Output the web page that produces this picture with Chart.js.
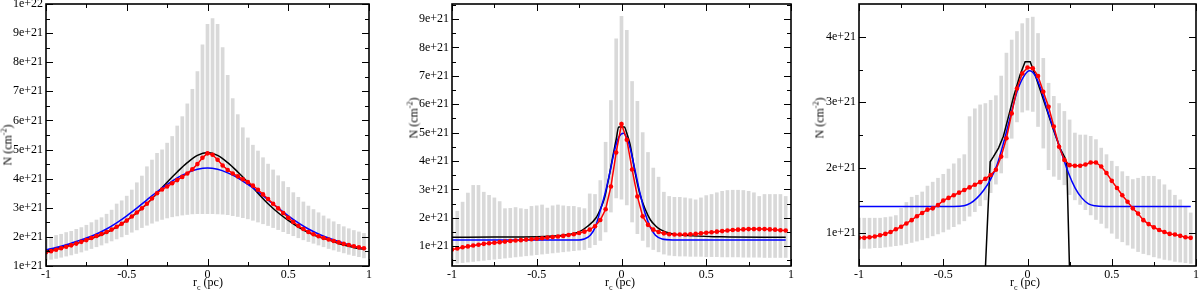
<!doctype html>
<html lang="en">
<head>
    <meta charset="utf-8">
    <title>Column density profiles</title>
    <style>
        * { margin: 0; padding: 0; }
        body { width: 1200px; height: 292px; background: #fff; position: relative; overflow: hidden; }
        .panel { position: absolute; top: 0; width: 400px; height: 292px; }
        .ytitle, .xtitle {
            position: absolute;
            font-family: "Liberation Serif", serif;
            font-size: 12px;
            color: #000;
            white-space: nowrap;
            line-height: 1;
        }
        .ytitle { transform: translate(-50%, -50%) rotate(-90deg); }
        .xtitle { transform: translate(-50%, -50%); }
        sup, sub { font-size: 8px; }
    </style>
</head>
<body>
    <canvas class="panel" id="p1" width="400" height="292" style="left:0"></canvas>
    <canvas class="panel" id="p2" width="400" height="292" style="left:400px"></canvas>
    <canvas class="panel" id="p3" width="400" height="292" style="left:800px"></canvas>

    <div class="ytitle" style="left:7px; top:145px">N (cm<sup>-2</sup>)</div>
    <div class="ytitle" style="left:413px; top:118px">N (cm<sup>-2</sup>)</div>
    <div class="ytitle" style="left:819px; top:118px">N (cm<sup>-2</sup>)</div>
    <div class="xtitle" style="left:208px; top:284px">r<sub>c</sub> (pc)</div>
    <div class="xtitle" style="left:620px; top:284px">r<sub>c</sub> (pc)</div>
    <div class="xtitle" style="left:1025px; top:284px">r<sub>c</sub> (pc)</div>

    <script src="https://cdn.jsdelivr.net/npm/chart.js/dist/chart.umd.min.js"></script>
    <script>
        // sample positions r_c (pc), same for all three panels
        const r = [-1, -0.96875, -0.9375, -0.90625, -0.875, -0.84375, -0.8125, -0.78125, -0.75, -0.71875,
            -0.6875, -0.65625, -0.625, -0.59375, -0.5625, -0.53125, -0.5, -0.46875, -0.4375, -0.40625,
            -0.375, -0.34375, -0.3125, -0.28125, -0.25, -0.21875, -0.1875, -0.15625, -0.125, -0.09375,
            -0.0625, -0.03125, 0, 0.03125, 0.0625, 0.09375, 0.125, 0.15625, 0.1875, 0.21875,
            0.25, 0.28125, 0.3125, 0.34375, 0.375, 0.40625, 0.4375, 0.46875, 0.5, 0.53125,
            0.5625, 0.59375, 0.625, 0.65625, 0.6875, 0.71875, 0.75, 0.78125, 0.8125, 0.84375,
            0.875, 0.90625, 0.9375, 0.96875];

        // x axis ticks
        const xTicks = [-1, -0.5, 0, 0.5, 1];
        const xTickLabels = ['-1', '-0.5', '0', '0.5', '1'];
        const xMinor = [-0.75, -0.25, 0.25, 0.75];

        // ---- panel 1 (values in 1e21 cm^-2) ----
        const yRange1 = [1, 10];
        const yTicks1 = [1, 2, 3, 4, 5, 6, 7, 8, 9, 10];
        const yLabels1 = ['1e+21', '2e+21', '3e+21', '4e+21', '5e+21', '6e+21', '7e+21', '8e+21', '9e+21', '1e+22'];
        const yMinor1 = [1.5, 2.5, 3.5, 4.5, 5.5, 6.5, 7.5, 8.5, 9.5];
        const hi1 = [1.92, 1.99, 2.05, 2.09, 2.15, 2.19, 2.26, 2.32, 2.4, 2.49,
            2.58, 2.66, 2.78, 2.92, 3.13, 3.24, 3.4, 3.61, 3.86, 4.09,
            4.41, 4.64, 4.87, 4.99, 5.22, 5.45, 5.81, 6.13, 6.57, 7.07,
            7.68, 8.6, 9.3, 9.5, 9.3, 8.5, 7.55, 6.75, 6.2, 5.75,
            5.4, 5.15, 4.95, 4.72, 4.5, 4.3, 4.1, 3.9, 3.7, 3.52,
            3.36, 3.2, 3.06, 2.94, 2.83, 2.72, 2.62, 2.52, 2.43, 2.35,
            2.28, 2.22, 2.17, 2.12];
        const lo1 = [1.2, 1.23, 1.26, 1.3, 1.34, 1.38, 1.43, 1.48, 1.54, 1.6,
            1.66, 1.72, 1.79, 1.86, 1.93, 2.0, 2.08, 2.16, 2.24, 2.32,
            2.4, 2.47, 2.54, 2.6, 2.65, 2.69, 2.72, 2.75, 2.77, 2.79,
            2.8, 2.8, 2.8, 2.8, 2.79, 2.78, 2.76, 2.73, 2.7, 2.66,
            2.62, 2.57, 2.51, 2.45, 2.39, 2.32, 2.25, 2.18, 2.11, 2.04,
            1.97, 1.9, 1.84, 1.78, 1.72, 1.66, 1.6, 1.55, 1.5, 1.45,
            1.4, 1.36, 1.32, 1.28];
        const red1 = [1.47, 1.51, 1.56, 1.61, 1.66, 1.71, 1.77, 1.83, 1.89, 1.96,
            2.03, 2.1, 2.17, 2.25, 2.35, 2.45, 2.56, 2.7, 2.84, 2.98,
            3.14, 3.32, 3.5, 3.63, 3.73, 3.84, 3.95, 4.06, 4.18, 4.32,
            4.5, 4.72, 4.87, 4.82, 4.65, 4.45, 4.3, 4.18, 4.08, 3.98,
            3.88, 3.76, 3.62, 3.46, 3.3, 3.14, 2.98, 2.82, 2.66, 2.51,
            2.38, 2.27, 2.17, 2.09, 2.02, 1.96, 1.91, 1.86, 1.81, 1.76,
            1.72, 1.68, 1.64, 1.61];
        const fitX1 = [-1, -0.9375, -0.875, -0.8125, -0.75, -0.6875, -0.625, -0.5625, -0.5, -0.4375,
            -0.375, -0.3125, -0.25, -0.1875, -0.125, -0.0625, 0, 0.0625, 0.125, 0.1875,
            0.25, 0.3125, 0.375, 0.4375, 0.5, 0.5625, 0.625, 0.6875, 0.75, 0.8125,
            0.875, 0.9375, 0.96875];
        const black1 = [1.53, 1.6, 1.68, 1.77, 1.9, 2.0, 2.15, 2.34, 2.57, 2.83,
            3.14, 3.5, 3.88, 4.23, 4.55, 4.8, 4.9, 4.8, 4.55, 4.23,
            3.88, 3.5, 3.14, 2.83, 2.57, 2.34, 2.15, 2.0, 1.9, 1.77,
            1.68, 1.6, 1.57];
        const blue1 = [1.56, 1.64, 1.73, 1.84, 1.96, 2.1, 2.27, 2.48, 2.72, 2.99,
            3.27, 3.55, 3.8, 4.03, 4.2, 4.32, 4.37, 4.32, 4.2, 4.03,
            3.8, 3.55, 3.27, 2.99, 2.72, 2.48, 2.27, 2.1, 1.96, 1.84,
            1.73, 1.64, 1.6];

        // ---- panel 2 ----
        const yRange2 = [0.3, 9.53];
        const yTicks2 = [1, 2, 3, 4, 5, 6, 7, 8, 9];
        const yLabels2 = ['1e+21', '2e+21', '3e+21', '4e+21', '5e+21', '6e+21', '7e+21', '8e+21', '9e+21'];
        const yMinor2 = [0.5, 1.5, 2.5, 3.5, 4.5, 5.5, 6.5, 7.5, 8.5, 9.5];
        const hi2 = [2.0, 2.23, 2.55, 2.87, 3.14, 3.14, 2.9, 2.79, 2.7, 2.57,
            2.32, 2.33, 2.36, 2.32, 2.3, 2.4, 2.42, 2.45, 2.34, 2.42,
            2.45, 2.42, 2.4, 2.4, 2.36, 2.32, 2.84, 2.82, 3.31, 4.66,
            6.13, 8.3, 9.1, 8.6, 6.8, 6.1, 5.0, 4.3, 3.75, 3.43,
            2.9, 2.75, 2.72, 2.72, 2.7, 2.67, 2.63, 2.7, 2.78, 2.82,
            2.88, 2.93, 2.96, 2.97, 2.97, 2.96, 2.93, 2.88, 2.75, 2.82,
            2.82, 2.82, 2.82, 2.75];
        const lo2 = [0.38, 0.4, 0.42, 0.44, 0.46, 0.48, 0.5, 0.52, 0.54, 0.56,
            0.58, 0.6, 0.62, 0.64, 0.66, 0.68, 0.7, 0.72, 0.74, 0.76,
            0.78, 0.8, 0.82, 0.84, 0.86, 0.88, 0.95, 1.05, 1.2, 1.5,
            2.2, 2.7, 2.65, 2.45, 1.85, 1.44, 1.2, 0.97, 0.88, 0.8,
            0.72, 0.68, 0.66, 0.65, 0.65, 0.64, 0.64, 0.64, 0.63, 0.63,
            0.63, 0.62, 0.62, 0.62, 0.62, 0.61, 0.61, 0.61, 0.61, 0.6,
            0.6, 0.6, 0.6, 0.6];
        const red2 = [0.88, 0.92, 0.96, 0.99, 1.02, 1.05, 1.08, 1.1, 1.12, 1.14,
            1.16, 1.18, 1.2, 1.21, 1.23, 1.24, 1.26, 1.28, 1.3, 1.32,
            1.34, 1.36, 1.39, 1.42, 1.46, 1.51, 1.58, 1.7, 1.92, 2.3,
            3.1, 4.3, 5.3, 4.75, 3.7, 2.75, 2.05, 1.75, 1.58, 1.5,
            1.45, 1.42, 1.41, 1.41, 1.41, 1.42, 1.43, 1.45, 1.47, 1.49,
            1.51, 1.53, 1.55, 1.57, 1.58, 1.59, 1.6, 1.6, 1.6, 1.6,
            1.59, 1.58, 1.56, 1.55];
        const black2X = [-1, -0.75, -0.5, -0.4, -0.3, -0.25, -0.2, -0.15, -0.125, -0.1,
            -0.075, -0.05, -0.03, -0.017, 0.017, 0.03, 0.05, 0.08, 0.11, 0.14,
            0.17, 0.2, 0.23, 0.29, 0.39, 0.59, 0.96875];
        const black2Y = [1.31, 1.32, 1.33, 1.36, 1.42, 1.5, 1.7, 2.0, 2.3, 2.7,
            3.4, 4.2, 4.8, 5.2, 5.2, 5.0, 4.6, 3.6, 2.8, 2.3,
            1.93, 1.72, 1.58, 1.45, 1.37, 1.33, 1.31];
        const blue2X = [-1, -0.5, -0.25, -0.22, -0.184, -0.155, -0.125, -0.095, -0.066, -0.038,
            -0.015, 0.012, 0.035, 0.052, 0.08, 0.11, 0.14, 0.17, 0.2, 0.24,
            0.3, 0.5, 0.96875];
        const blue2Y = [1.22, 1.22, 1.22, 1.25, 1.38, 1.67, 2.26, 2.9, 3.67, 4.45,
            4.85, 4.98, 4.75, 4.43, 3.67, 2.85, 2.14, 1.67, 1.38, 1.25,
            1.22, 1.22, 1.22];

        // ---- panel 3 ----
        const yRange3 = [0.5, 4.5];
        const yTicks3 = [1, 2, 3, 4];
        const yLabels3 = ['1e+21', '2e+21', '3e+21', '4e+21'];
        const yMinor3 = [1.5, 2.5, 3.5];
        const hi3 = [1.23, 1.23, 1.23, 1.23, 1.23, 1.24, 1.25, 1.27, 1.38, 1.47,
            1.55, 1.58, 1.63, 1.72, 1.78, 1.84, 1.9, 1.98, 2.06, 2.14,
            2.2, 2.78, 2.9, 2.96, 2.98, 3.03, 3.1, 3.4, 3.75, 3.95,
            4.08, 4.2, 4.28, 4.3, 4.05, 3.67, 3.29, 3.09, 2.98, 2.86,
            2.73, 2.53, 2.5, 2.5, 2.48, 2.43, 2.3, 2.2, 2.1, 2.02,
            1.94, 1.87, 1.82, 1.84, 1.87, 1.87, 1.87, 1.82, 1.74, 1.66,
            1.58, 1.51, 1.41, 1.31];
        const lo3 = [0.77, 0.77, 0.77, 0.78, 0.78, 0.79, 0.8, 0.81, 0.82, 0.84,
            0.86, 0.88, 0.9, 0.93, 0.96, 0.99, 1.02, 1.06, 1.1, 1.14,
            1.19, 1.26, 1.33, 1.42, 1.51, 1.62, 1.75, 1.92, 2.15, 2.45,
            2.7, 2.85, 2.88, 2.86, 2.63, 2.3, 1.97, 1.87, 1.82, 1.74,
            1.59, 1.51, 1.44, 1.36, 1.28, 1.21, 1.15, 1.08, 1.0, 0.92,
            0.87, 0.82, 0.77, 0.72, 0.69, 0.67, 0.64, 0.62, 0.6, 0.59,
            0.57, 0.56, 0.55, 0.54];
        const red3 = [0.93, 0.93, 0.94, 0.95, 0.97, 0.99, 1.02, 1.06, 1.1, 1.15,
            1.2, 1.26, 1.31, 1.36, 1.38, 1.43, 1.5, 1.54, 1.58, 1.62,
            1.66, 1.7, 1.74, 1.78, 1.83, 1.89, 1.97, 2.17, 2.45, 2.83,
            3.21, 3.44, 3.53, 3.52, 3.4, 3.16, 2.93, 2.63, 2.32, 2.12,
            2.04, 2.03, 2.03, 2.05, 2.08, 2.08, 2.02, 1.92, 1.8, 1.69,
            1.58, 1.48, 1.38, 1.3, 1.2, 1.14, 1.09, 1.05, 1.02, 0.99,
            0.98, 0.96, 0.94, 0.93];
        const black3X = [-0.258, -0.2215, -0.202, -0.172, -0.143, -0.113, -0.083, -0.044, -0.014, 0.016,
            0.045, 0.075, 0.115, 0.154, 0.193, 0.223, 0.233, 0.254];
        const black3Y = [0, 2.09, 2.17, 2.3, 2.48, 2.78, 3.08, 3.42, 3.62, 3.62,
            3.42, 3.19, 2.88, 2.58, 2.3, 2.15, 2.07, 0];
        const blue3X = [-1, -0.5, -0.437, -0.377, -0.338, -0.299, -0.259, -0.22, -0.18, -0.14,
            -0.1, -0.061, -0.021, 0.012, 0.045, 0.085, 0.124, 0.164, 0.203, 0.243,
            0.283, 0.322, 0.362, 0.4, 0.46, 0.96875];
        const blue3Y = [1.41, 1.41, 1.41, 1.42, 1.46, 1.54, 1.66, 1.82, 2.05, 2.4,
            2.8, 3.17, 3.4, 3.48, 3.41, 3.16, 2.83, 2.52, 2.22, 1.92,
            1.69, 1.54, 1.45, 1.42, 1.41, 1.41];

        const pts = (xs, ys) => xs.map((x, i) => ({ x: x, y: ys[i] }));

        // box frame + inward ticks on all four sides (major and minor)
        const frameTicks = {
            id: 'frameTicks',
            afterDatasetsDraw(chart, args, o) {
                const { ctx, chartArea: a, scales } = chart;
                ctx.save();
                ctx.strokeStyle = '#000';
                ctx.lineWidth = 1;
                ctx.beginPath();
                const xs = [[o.xMajor, 7], [o.xMinor, 4]];
                xs.forEach(([vals, len]) => vals.forEach(v => {
                    const px = Math.round(scales.x.getPixelForValue(v)) + 0.5;
                    ctx.moveTo(px, a.bottom); ctx.lineTo(px, a.bottom - len);
                    ctx.moveTo(px, a.top); ctx.lineTo(px, a.top + len);
                }));
                const ys = [[o.yMajor, 7], [o.yMinor, 4]];
                ys.forEach(([vals, len]) => vals.forEach(v => {
                    const py = Math.round(scales.y.getPixelForValue(v)) + 0.5;
                    ctx.moveTo(a.left, py); ctx.lineTo(a.left + len, py);
                    ctx.moveTo(a.right, py); ctx.lineTo(a.right - len, py);
                }));
                ctx.stroke();
                ctx.lineWidth = 1.6;
                ctx.strokeRect(a.left, a.top, a.width, a.height);
                ctx.restore();
            }
        };

        function makePanel(id, p) {
            const font = { family: '"Liberation Serif", serif', size: 12 };
            new Chart(document.getElementById(id), {
                type: 'line',
                data: {
                    datasets: [
                        {
                            type: 'bar',
                            data: r.map((x, i) => ({ x: x, y: [p.lo[i], p.hi[i]] })),
                            backgroundColor: '#d9d9d9',
                            borderWidth: 0,
                            barThickness: 3,
                            order: 10
                        },
                        {
                            data: pts(p.blackX, p.blackY),
                            borderColor: '#000',
                            borderWidth: 1.5,
                            pointRadius: 0,
                            cubicInterpolationMode: p.blackSmooth ? 'monotone' : 'default',
                            tension: 0,
                            order: 3
                        },
                        {
                            data: pts(p.blueX, p.blueY),
                            borderColor: '#0000ff',
                            borderWidth: 1.5,
                            pointRadius: 0,
                            cubicInterpolationMode: 'monotone',
                            order: 2
                        },
                        {
                            data: pts(r, p.red),
                            borderColor: '#ff0000',
                            backgroundColor: '#ff0000',
                            borderWidth: 1.5,
                            pointRadius: 2.3,
                            pointBorderWidth: 0,
                            order: 1
                        }
                    ]
                },
                options: {
                    responsive: false,
                    animation: false,
                    events: [],
                    layout: { padding: p.pad },
                    plugins: {
                        legend: { display: false },
                        tooltip: { enabled: false },
                        frameTicks: { xMajor: xTicks, xMinor: xMinor, yMajor: p.yTicks, yMinor: p.yMinor }
                    },
                    scales: {
                        x: {
                            type: 'linear',
                            min: -1, max: 1,
                            offset: false,
                            grid: { display: false, drawTicks: false },
                            border: { display: false },
                            afterBuildTicks: s => { s.ticks = xTicks.map(v => ({ value: v })); },
                            afterFit: s => { s.height = p.xH; s.paddingLeft = 0; s.paddingRight = 0; },
                            ticks: {
                                autoSkip: false, maxRotation: 0, padding: 2, color: '#000', font: font,
                                callback: (v, i) => xTickLabels[i]
                            }
                        },
                        y: {
                            type: 'linear',
                            min: p.yRange[0], max: p.yRange[1],
                            grid: { display: false, drawTicks: false },
                            border: { display: false },
                            afterBuildTicks: s => { s.ticks = p.yTicks.map(v => ({ value: v })); },
                            afterFit: s => { s.width = p.yW; s.paddingTop = 0; s.paddingBottom = 0; },
                            ticks: {
                                autoSkip: false, padding: 3, color: '#000', font: font,
                                callback: (v, i) => p.yLabels[i]
                            }
                        }
                    }
                },
                plugins: [frameTicks]
            });
        }

        makePanel('p1', {
            hi: hi1, lo: lo1, red: red1,
            blackX: fitX1, blackY: black1, blackSmooth: true,
            blueX: fitX1, blueY: blue1,
            yRange: yRange1, yTicks: yTicks1, yLabels: yLabels1, yMinor: yMinor1,
            pad: { left: 1, right: 31, top: 4, bottom: 0 }, yW: 45, xH: 26
        });
        makePanel('p2', {
            hi: hi2, lo: lo2, red: red2,
            blackX: black2X, blackY: black2Y, blackSmooth: true,
            blueX: blue2X, blueY: blue2Y,
            yRange: yRange2, yTicks: yTicks2, yLabels: yLabels2, yMinor: yMinor2,
            pad: { left: 0, right: 9, top: 3, bottom: 0 }, yW: 52, xH: 26
        });
        makePanel('p3', {
            hi: hi3, lo: lo3, red: red3,
            blackX: black3X, blackY: black3Y, blackSmooth: false,
            blueX: blue3X, blueY: blue3Y,
            yRange: yRange3, yTicks: yTicks3, yLabels: yLabels3, yMinor: yMinor3,
            pad: { left: 0, right: 4, top: 4, bottom: 0 }, yW: 59, xH: 26
        });
    </script>
</body>
</html>
